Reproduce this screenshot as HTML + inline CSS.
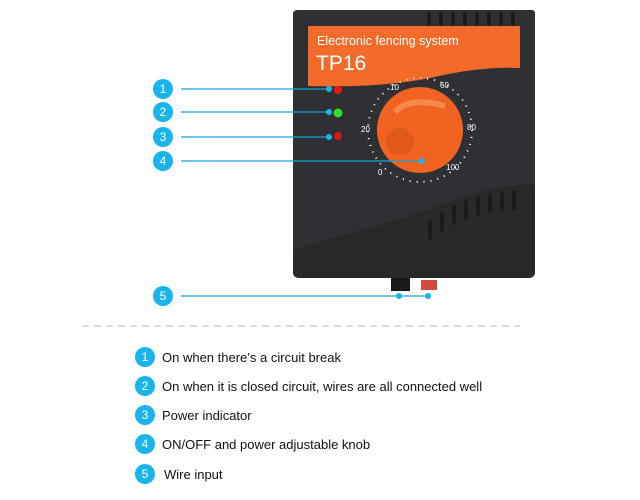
<!DOCTYPE html>
<html><head><style>
body{margin:0;width:640px;height:500px;background:#fff;overflow:hidden;font-family:"Liberation Sans",sans-serif}
</style></head><body>
<svg width="640" height="500" viewBox="0 0 640 500" xmlns="http://www.w3.org/2000/svg" style="position:absolute;left:0;top:0">
<!-- device -->
<path d="M298 10 H532 Q535 10 535 14 V272 Q535 278 528 278 H300 Q293 278 293 272 V14 Q293 10 298 10Z" fill="#2f3033"/>
<path d="M293 250 Q340 235 380 225 Q430 210 470 195 Q510 182 535 185 V272 Q535 278 528 278 H300 Q293 278 293 272Z" fill="#27282a"/>
<g fill="#1b1b1c">
<rect x="427" y="12" width="4" height="14" rx="2"/><rect x="439" y="12" width="4" height="14" rx="2"/><rect x="451" y="12" width="4" height="14" rx="2"/><rect x="463" y="12" width="4" height="14" rx="2"/><rect x="475" y="12" width="4" height="14" rx="2"/><rect x="487" y="12" width="4" height="14" rx="2"/><rect x="499" y="12" width="4" height="14" rx="2"/><rect x="511" y="12" width="4" height="14" rx="2"/>
<rect x="428" y="220" width="4" height="20" rx="2"/><rect x="440" y="212" width="4" height="20" rx="2"/><rect x="452" y="205" width="4" height="20" rx="2"/><rect x="464" y="200" width="4" height="20" rx="2"/><rect x="476" y="196" width="4" height="20" rx="2"/><rect x="488" y="193" width="4" height="20" rx="2"/><rect x="500" y="191" width="4" height="20" rx="2"/><rect x="512" y="190" width="4" height="20" rx="2"/>
</g>
<path d="M308 26 H520 V68 Q480 66 430 78 Q380 88 308 86Z" fill="#f26b2b"/>
<text x="317" y="45" font-size="12.5" fill="#fff">Electronic fencing system</text>
<text x="316" y="70" font-size="21" fill="#fff">TP16</text>
<!-- leds -->
<circle cx="338" cy="90" r="4" fill="#e21a1a"/>
<circle cx="338" cy="113" r="4.5" fill="#2ee02e"/>
<circle cx="338" cy="136" r="4" fill="#d01818"/>
<!-- knob -->
<circle cx="420" cy="130" r="52" fill="none" stroke="#fff" stroke-width="2" stroke-dasharray="1 6"/>
<circle cx="420" cy="130" r="43" fill="#f26322"/>
<circle cx="400" cy="142" r="14" fill="#e05a1c"/>
<path d="M395 112 Q410 96 445 106" stroke="#f7894f" stroke-width="6" fill="none"/>
<text x="361" y="132" font-size="8" fill="#fff">20</text>
<text x="467" y="130" font-size="8" fill="#fff">80</text>
<text x="390" y="90" font-size="8" fill="#fff">10</text>
<text x="440" y="88" font-size="8" fill="#fff">60</text>
<text x="378" y="175" font-size="8" fill="#fff">0</text>
<text x="446" y="170" font-size="8" fill="#fff">100</text>
<!-- connectors -->
<rect x="391" y="278" width="19" height="13" fill="#1a1a1a"/>
<rect x="421" y="280" width="16" height="10" fill="#d24a3c"/>
<!-- leader lines -->
<g stroke="#1aa3dc" stroke-width="1.2">
<line x1="181" y1="89" x2="329" y2="89"/>
<line x1="181" y1="112" x2="329" y2="112"/>
<line x1="181" y1="137" x2="329" y2="137"/>
<line x1="181" y1="161" x2="422" y2="161"/>
<line x1="181" y1="296" x2="428" y2="296"/>
</g>
<g fill="#19b4ec">
<circle cx="329" cy="89" r="3"/><circle cx="329" cy="112" r="3"/><circle cx="329" cy="137" r="3"/><circle cx="422" cy="161" r="3"/><circle cx="399" cy="296" r="3"/><circle cx="428" cy="296" r="3"/>
<circle cx="163" cy="89" r="10"/><circle cx="163" cy="112" r="10"/><circle cx="163" cy="137" r="10"/><circle cx="163" cy="161" r="10"/><circle cx="163" cy="296" r="10"/>
<circle cx="145" cy="357" r="10"/><circle cx="145" cy="386" r="10"/><circle cx="145" cy="415" r="10"/><circle cx="145" cy="444" r="10"/><circle cx="145" cy="474" r="10"/>
</g>
<g fill="#fff" font-size="12" text-anchor="middle">
<text x="163" y="93">1</text><text x="163" y="116">2</text><text x="163" y="141">3</text><text x="163" y="165">4</text><text x="163" y="300">5</text>
<text x="145" y="361">1</text><text x="145" y="390">2</text><text x="145" y="419">3</text><text x="145" y="448">4</text><text x="145" y="478">5</text>
</g>
<line x1="82" y1="326" x2="520" y2="326" stroke="#bbb" stroke-width="1" stroke-dasharray="7 5"/>
<g fill="#111" font-size="13">
<text x="162" y="362">On when there’s a circuit break</text>
<text x="162" y="391">On when it is closed circuit, wires are all connected well</text>
<text x="162" y="420">Power indicator</text>
<text x="162" y="449">ON/OFF and power adjustable knob</text>
<text x="164" y="479">Wire input</text>
</g>
</svg>
</body></html>
